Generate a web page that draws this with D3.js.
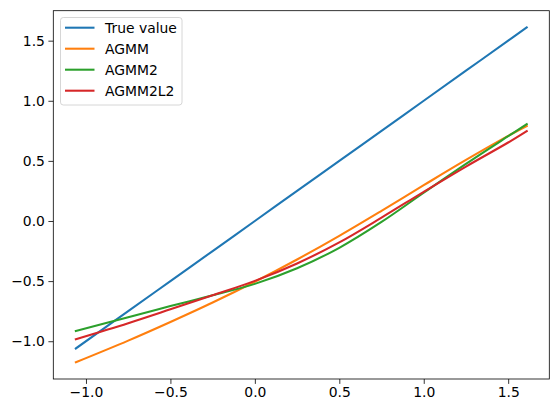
<!DOCTYPE html>
<html>
<head>
<meta charset="utf-8">
<script src="https://cdn.jsdelivr.net/npm/d3@7"></script>
<style>
  body { margin: 0; background: #fff; }
  text { font-family: "DejaVu Sans", sans-serif; }
</style>
</head>
<body>
<div id="chart"></div>
<script>
// values
const xs = [-1.06, -0.75, -0.5, -0.25, 0, 0.25, 0.5, 0.75, 1.0, 1.25, 1.5, 1.61];
const trueValue = [-1.06, -0.75, -0.5, -0.25, 0, 0.25, 0.5, 0.75, 1.0, 1.25, 1.5, 1.61];
const agmm = [-1.175, -0.995, -0.84, -0.678, -0.505, -0.32, -0.123, 0.085, 0.298, 0.508, 0.708, 0.79];
const agmm2 = [-0.915, -0.80, -0.708, -0.618, -0.523, -0.393, -0.223, -0.008, 0.235, 0.475, 0.705, 0.805];
const agmm2l2 = [-0.983, -0.85, -0.735, -0.618, -0.498, -0.353, -0.178, 0.028, 0.243, 0.453, 0.653, 0.748];
const seriesNames = ["True value", "AGMM", "AGMM2", "AGMM2L2"];
const colors = ["#1f77b4", "#ff7f0e", "#2ca02c", "#d62728"];
const xTicks = [-1.0, -0.5, 0.0, 0.5, 1.0, 1.5];
const yTicks = [-1.0, -0.5, 0.0, 0.5, 1.0, 1.5];

var width = 559, height = 413;
var mLeft = 53.3, mRight = 549.3, mTop = 10.7, mBottom = 379;

var series = [trueValue, agmm, agmm2, agmm2l2];

const svg = d3.select("#chart").append("svg")
    .attr("width", width)
    .attr("height", height);

function pad(ext) {
    var d = (ext[1] - ext[0]) * 0.05;
    return [ext[0] - d, ext[1] + d];
}
var xExt = d3.extent(xs);
var yExt = d3.extent(series.flat());

const x = d3.scaleLinear().domain(pad(xExt)).range([mLeft, mRight]);
const y = d3.scaleLinear().domain(pad(yExt)).range([mBottom, mTop]);

function fmt(v) { return d3.format(".1f")(v).replace("-", "\u2212"); }

var line = d3.line()
    .x((d, i) => x(xs[i]))
    .y(d => y(d))
    .curve(d3.curveCatmullRom.alpha(0.5));

svg.append("g")
    .selectAll("path")
    .data(series)
    .join("path")
    .attr("d", line)
    .attr("fill", "none")
    .attr("stroke", (d, i) => colors[i])
    .attr("stroke-width", 2.08)
    .attr("stroke-linecap", "square");

// axes
var xAxis = svg.append("g")
    .attr("transform", `translate(0,${mBottom})`)
    .call(d3.axisBottom(x).tickValues(xTicks).tickFormat(fmt).tickSize(4.9).tickPadding(3.5));
var yAxis = svg.append("g")
    .attr("transform", `translate(${mLeft},0)`)
    .call(d3.axisLeft(y).tickValues(yTicks).tickFormat(fmt).tickSize(4.9).tickPadding(3.5));
[xAxis, yAxis].forEach(function(g) {
    g.select(".domain").remove();
    g.selectAll(".tick line").attr("stroke", "#000").attr("stroke-width", 0.8);
    g.selectAll(".tick text").attr("fill", "#000").style("font-size", "13.9px").style("font-family", "DejaVu Sans");
});

svg.append("rect")
    .attr("x", mLeft).attr("y", mTop)
    .attr("width", mRight - mLeft).attr("height", mBottom - mTop)
    .attr("fill", "none")
    .attr("stroke", "#000")
    .attr("stroke-width", 0.8);

// legend
var legend = svg.append("g");
legend.append("rect")
    .attr("x", 60.5).attr("y", 17.5)
    .attr("width", 121.5).attr("height", 87.5)
    .attr("rx", 2.8)
    .attr("fill", "#fff").attr("fill-opacity", 0.8)
    .attr("stroke", "#cccccc").attr("stroke-width", 0.8);
var item = legend.selectAll("g.item")
    .data(seriesNames)
    .join("g")
    .attr("class", "item")
    .attr("transform", (d, i) => `translate(0,${27.7 + i * 21})`);
item.append("line")
    .attr("x1", 65).attr("x2", 94.5)
    .attr("stroke", (d, i) => colors[i])
    .attr("stroke-width", 2.08);
item.append("text")
    .attr("x", 105).attr("dy", "0.35em")
    .style("font-size", "13.9px")
    .attr("fill", "#000")
    .text(d => d);
</script>
</body>
</html>
